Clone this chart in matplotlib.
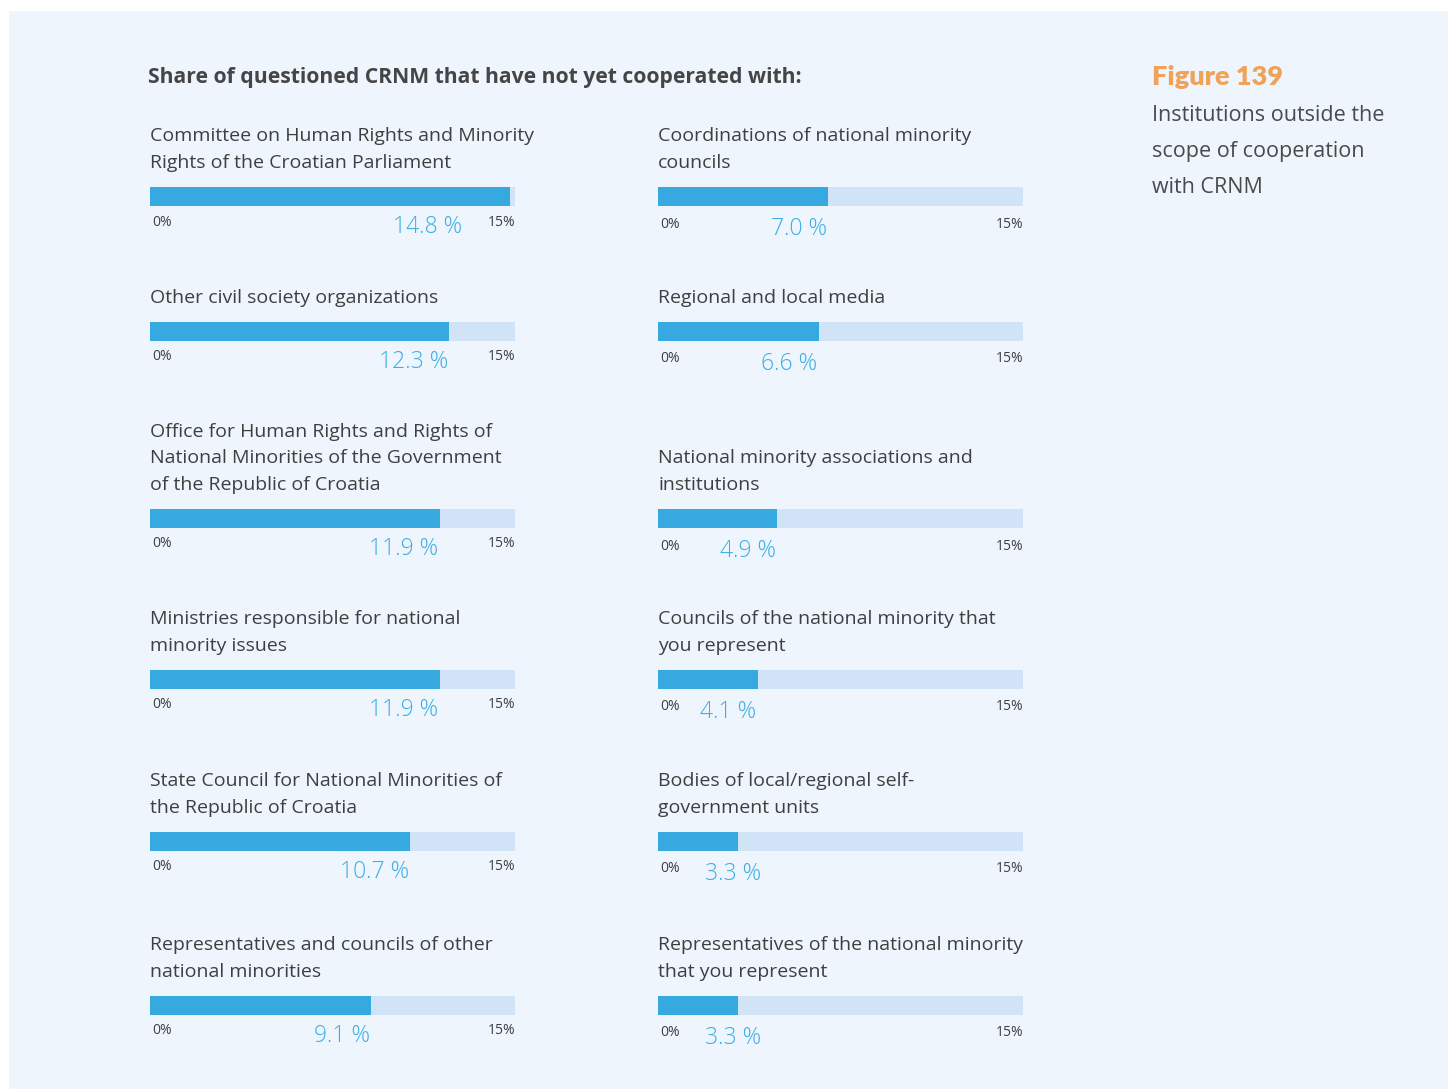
import matplotlib
matplotlib.use("Agg")
import matplotlib.pyplot as plt
from matplotlib.patches import Rectangle

W, H = 1448, 1091

title = "Share of questioned CRNM that have not yet cooperated with:"
fig_title = "Figure 139"
fig_sub = ["Institutions outside the", "scope of cooperation", "with CRNM"]

left_labels = [
    "Committee on Human Rights and Minority\nRights of the Croatian Parliament",
    "Other civil society organizations",
    "Office for Human Rights and Rights of\nNational Minorities of the Government\nof the Republic of Croatia",
    "Ministries responsible for national\nminority issues",
    "State Council for National Minorities of\nthe Republic of Croatia",
    "Representatives and councils of other\nnational minorities",
]
left_values = [14.8, 12.3, 11.9, 11.9, 10.7, 9.1]

right_labels = [
    "Coordinations of national minority\ncouncils",
    "Regional and local media",
    "National minority associations and\ninstitutions",
    "Councils of the national minority that\nyou represent",
    "Bodies of local/regional self-\ngovernment units",
    "Representatives of the national minority\nthat you represent",
]
right_values = [7.0, 6.6, 4.9, 4.1, 3.3, 3.3]

axis_min_label = "0%"
axis_max_label = "15%"
axis_max = 15

BG = "#EEF5FD"
BAR = "#36A9E1"
TRACK = "#D1E4F7"
VAL = "#3AAEE6"
TXT = "#3F3F3F"
FONT = ["Open Sans", "DejaVu Sans"]

fig = plt.figure(figsize=(W / 100, H / 100), dpi=100)
fig.patch.set_facecolor("white")
fig.patches.append(Rectangle((9 / W, 1 - 1089 / H), 1, (1089 - 11) / H,
                             transform=fig.transFigure, facecolor=BG,
                             edgecolor="none", zorder=-10))


def fx(x):
    return x / W


def fy(y):
    return 1 - y / H


fig.text(fx(148), fy(77), title, fontsize=15.2, fontweight="bold", color="#454545",
         family=FONT, va="center", ha="left")
fig.text(fx(1152), fy(77), fig_title, fontsize=19.5, fontweight="heavy", color="#F0A258",
         family=["Lato", "DejaVu Sans"], va="center", ha="left")
for i, line in enumerate(fig_sub):
    fig.text(fx(1152), fy(116 + 36 * i), line, fontsize=15.5, color="#4A4A4A",
             family=FONT, va="center", ha="left")

bar_tops = [187, 322, 509, 670, 832, 996]
bar_h = 19
bar_w = 365

columns = [(150, left_labels, left_values, 0), (658, right_labels, right_values, 2)]
for x0, labels, values, dy in columns:
    for top, lab, v in zip(bar_tops, labels, values):
        ax = fig.add_axes([fx(x0), fy(top + bar_h), bar_w / W, bar_h / H])
        ax.barh([0], [axis_max], height=1.0, color=TRACK, left=0)
        ax.barh([0], [v], height=1.0, color=BAR, left=0)
        ax.set_xlim(0, axis_max)
        ax.set_ylim(-0.5, 0.5)
        ax.set_axis_off()
        # category label
        fig.text(fx(x0), fy(top - 15), lab, fontsize=14, color=TXT, family=FONT,
                 va="bottom", ha="left", linespacing=1.62)
        # axis min/max labels
        fig.text(fx(x0 + 2), fy(top + 35 + dy), axis_min_label, fontsize=10, color=TXT,
                 family=FONT, va="center", ha="left")
        fig.text(fx(x0 + bar_w), fy(top + 35 + dy), axis_max_label, fontsize=10, color=TXT,
                 family=FONT, va="center", ha="right")
        # value label: right-aligned at the bar end, kept clear of the axis labels
        if v < 4.0:
            xv, ha = 1.93, "left"
        else:
            xv, ha = min(v - 0.06, 12.82), "right"
        ax.text(xv, -0.5 - (21 + dy) / bar_h, f"{v:.1f} %",
                fontsize=16.5, fontweight="light", color=VAL, family=FONT,
                ha=ha, va="center")

fig.savefig("out.png", dpi=100, facecolor=fig.get_facecolor())
